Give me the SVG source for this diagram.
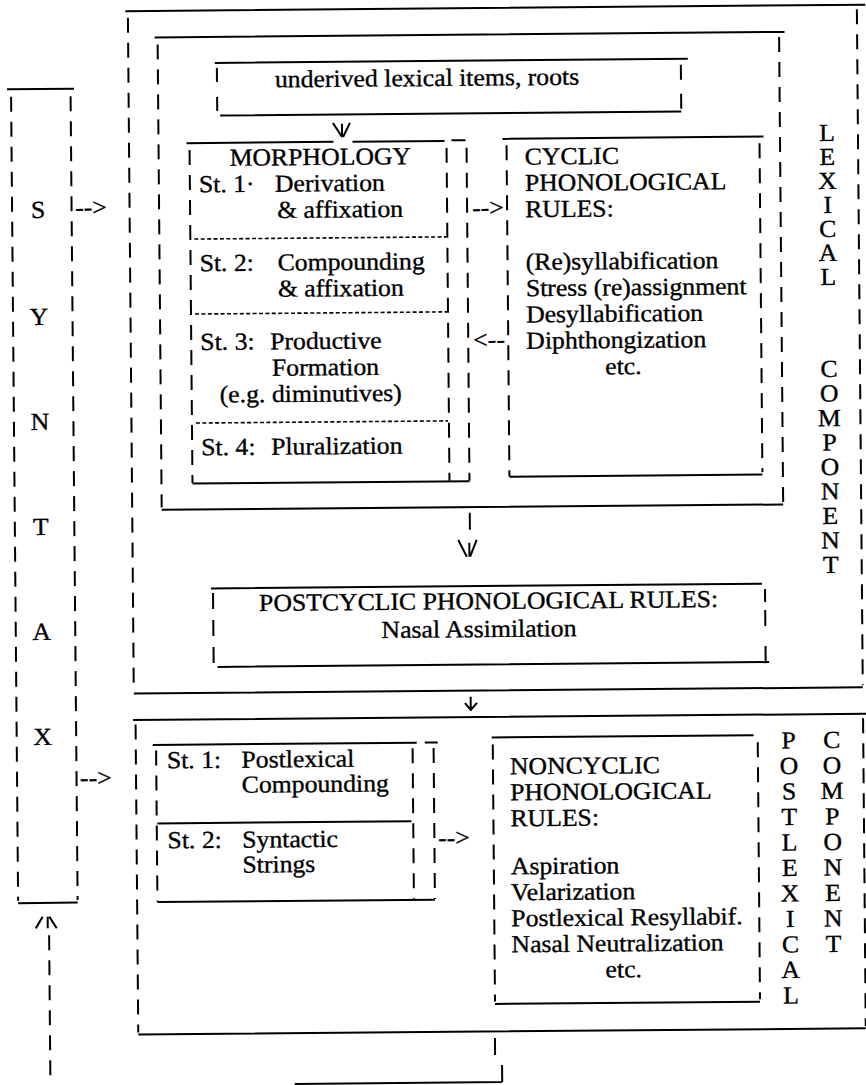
<svg xmlns="http://www.w3.org/2000/svg" width="866" height="1085" viewBox="0 0 866 1085">
<style>
.h{stroke:#000;stroke-width:2;fill:none}
.v{stroke:#000;stroke-width:2;fill:none;stroke-dasharray:15 10}
.b{stroke:#000;stroke-width:2;fill:none}
.d{stroke:#000;stroke-width:1.6;fill:none;stroke-dasharray:4 2.4}
text{font-family:"Liberation Serif","Times New Roman",serif;font-size:24.5px;fill:#000;stroke:#000;stroke-width:0.35}
.m{text-anchor:middle}
</style>
<rect width="866" height="1085" fill="#fff"/>
<g transform="rotate(-0.5 433 542)">
<g id="syntax">
<path class="h" d="M11 85.6H78M15 899.5H74.5"/>
<path class="v" d="M15 93V897M74.5 93V897"/>
<g transform="scale(1.05 1)">
<text class="m" x="39" y="214.6">S</text><text class="m" x="39" y="321.6">Y</text><text class="m" x="39" y="426.6">N</text><text class="m" x="39" y="531.6">T</text><text class="m" x="39" y="636.6">A</text><text class="m" x="39" y="741.6">X</text>
</g>
</g>
<g id="lexical-component">
<path class="h" d="M130 8.5H870M132.5 691H861.5"/>
<path class="v" d="M132.5 15V689M861.5 13V689"/>
<g transform="scale(1.05 1)">
<text class="m" x="791" y="144.5">L</text><text class="m" x="791" y="168.5">E</text><text class="m" x="791" y="192.5">X</text><text class="m" x="791" y="216.5">I</text><text class="m" x="791" y="240.5">C</text><text class="m" x="791" y="264.5">A</text><text class="m" x="791" y="288.5">L</text>
<text class="m" x="791" y="380.5">C</text><text class="m" x="791" y="405">O</text><text class="m" x="791" y="429.5">M</text><text class="m" x="791" y="454">P</text><text class="m" x="791" y="478.5">O</text><text class="m" x="791" y="503">N</text><text class="m" x="791" y="527.5">E</text><text class="m" x="791" y="552">N</text><text class="m" x="791" y="576.5">T</text>
</g>
</g>
<g id="cyclic-block">
<path class="h" d="M159 35H789M162 507.5H783.5"/>
<path class="v" d="M162 42V505M783.5 40V505"/>
</g>
<g id="underived">
<path class="h" d="M219 61H692M224 113.7H685"/>
<path class="b" d="M221 66V80M221 95V109M685 67V82M685 96V111"/>
<text x="265.7" y="86" transform="scale(1.05 1)">underived lexical items, roots</text>
</g>
<g id="morphology">
<path class="h" d="M190 141H337M356 141H448M455 140.5H469M193 481.5H470"/>
<path class="v" d="M193 148V481M450 148V481M470 148V481"/>
<path class="d" d="M197 237H449M197 312H449M197 421H449"/>
<g transform="scale(1.05 1)">
<text x="221.9" y="164">MORPHOLOGY</text>
<text x="192.4" y="190.3">St. 1·</text><text x="264.8" y="190.3">Derivation</text>
<text x="266.7" y="216.6">&amp; affixation</text>
<text x="192.4" y="269.2">St. 2:</text><text x="266.7" y="269.2">Compounding</text>
<text x="266.7" y="295.5">&amp; affixation</text>
<text x="192.4" y="348">St. 3:</text><text x="259" y="348">Productive</text>
<text x="260.5" y="374.4">Formation</text>
<text x="210.5" y="400.7">(e.g. diminutives)</text>
<text x="192.4" y="453.3">St. 4:</text><text x="259" y="453.3">Pluralization</text>
</g>
</g>
<g id="cyclic-rules">
<path class="h" d="M506 139.5H767M510 477.5H763"/>
<path class="v" d="M510 146V477M763 146V475"/>
<g transform="scale(1.05 1)">
<text x="502.9" y="165.5">CYCLIC</text>
<text x="502.9" y="191.8">PHONOLOGICAL</text>
<text x="502.9" y="218.1">RULES:</text>
<text x="502.9" y="270.7">(Re)syllabification</text>
<text x="502.9" y="297">Stress (re)assignment</text>
<text x="502.9" y="323.3">Desyllabification</text>
<text x="502.9" y="349.6">Diphthongization</text>
<text class="m" x="595.2" y="375.9">etc.</text>
</g>
</g>
<g id="postcyclic">
<path class="h" d="M210.6 586.5H761.6M216.5 665H768"/>
<path class="b" d="M212.6 591V607M212.6 618V634M212.6 645V661M764.6 592V605M764.6 613V629M764.6 649V665"/>
<g transform="scale(1.05 1)">
<text class="m" x="464.8" y="609.5">POSTCYCLIC PHONOLOGICAL RULES:</text>
<text class="m" x="455.5" y="637.5">Nasal Assimilation</text>
</g>
</g>
<g id="postlexical-component">
<path class="h" d="M131.5 717.5H870M134 1032H861.5"/>
<path class="v" d="M134 722V1030M861.5 722V1030"/>
<g transform="scale(1.05 1)">
<text class="m" x="749.5" y="751.5">P</text><text class="m" x="749.5" y="777">O</text><text class="m" x="749.5" y="802.5">S</text><text class="m" x="749.5" y="828">T</text><text class="m" x="749.5" y="853.5">L</text><text class="m" x="749.5" y="879">E</text><text class="m" x="749.5" y="904.5">X</text><text class="m" x="749.5" y="930">I</text><text class="m" x="749.5" y="955.5">C</text><text class="m" x="749.5" y="981">A</text><text class="m" x="749.5" y="1006.5">L</text>
<text class="m" x="790.5" y="751.5">C</text><text class="m" x="790.5" y="777">O</text><text class="m" x="790.5" y="802.5">M</text><text class="m" x="790.5" y="828">P</text><text class="m" x="790.5" y="853.5">O</text><text class="m" x="790.5" y="879">N</text><text class="m" x="790.5" y="904.5">E</text><text class="m" x="790.5" y="930">N</text><text class="m" x="790.5" y="955.5">T</text>
</g>
</g>
<g id="postlexical-morphology">
<path class="h" d="M151 742.5H415M423 742.5H436M155 821H409M154.3 899.7H431.8"/>
<path class="v" d="M154.3 748V899M410.8 748V899M431.8 748V899"/>
<g transform="scale(1.05 1)">
<text x="157.1" y="766">St. 1:</text><text x="228.2" y="766">Postlexical</text>
<text x="228.2" y="791">Compounding</text>
<text x="157.1" y="846">St. 2:</text><text x="228.2" y="846">Syntactic</text>
<text x="228.2" y="871">Strings</text>
</g>
</g>
<g id="noncyclic">
<path class="h" d="M490 738H752M491 1004.5H756"/>
<path class="v" d="M491 745V1002M756 745V1002"/>
<g transform="scale(1.05 1)">
<text x="483.8" y="775">NONCYCLIC</text>
<text x="483.8" y="801">PHONOLOGICAL</text>
<text x="483.8" y="827">RULES:</text>
<text x="483.8" y="875">Aspiration</text>
<text x="483.8" y="901">Velarization</text>
<text x="483.8" y="927">Postlexical Resyllabif.</text>
<text x="483.8" y="953">Nasal Neutralization</text>
<text class="m" x="590.5" y="979">etc.</text>
</g>
</g>
<g id="connectors">
<g transform="scale(1.05 1)">
<text x="74.3" y="212.6">--&gt;</text>
<text x="74.3" y="783">--&gt;</text>
<text x="452.4" y="216.3">--&gt;</text>
<text x="452.4" y="348.3">&lt;--</text>
<text x="414.8" y="846">--&gt;</text>
</g>
<path class="b" d="M336.6 122.2L345.6 136.2M353.6 122.2L346.6 136.2M345.6 123V136"/>
<path class="b" d="M470 513V530M458.3 540.3L466.7 557M476.7 540.3L470 557M469.3 543V557"/>
<path class="b" d="M469.3 697V710M463.6 703.3L469.3 710.3L475.6 703.3"/>
<path class="b" d="M32.4 924.9L39.4 913.3M44.4 913.3V924.9M46 913.3L53.4 924.9"/>
<path class="v" d="M45.7 932V1090"/>
<path class="b" d="M490.6 1038.5V1055.5M497.5 1065.6V1082.6M290 1082.7H497.5"/>
</g>
</g>
</svg>
